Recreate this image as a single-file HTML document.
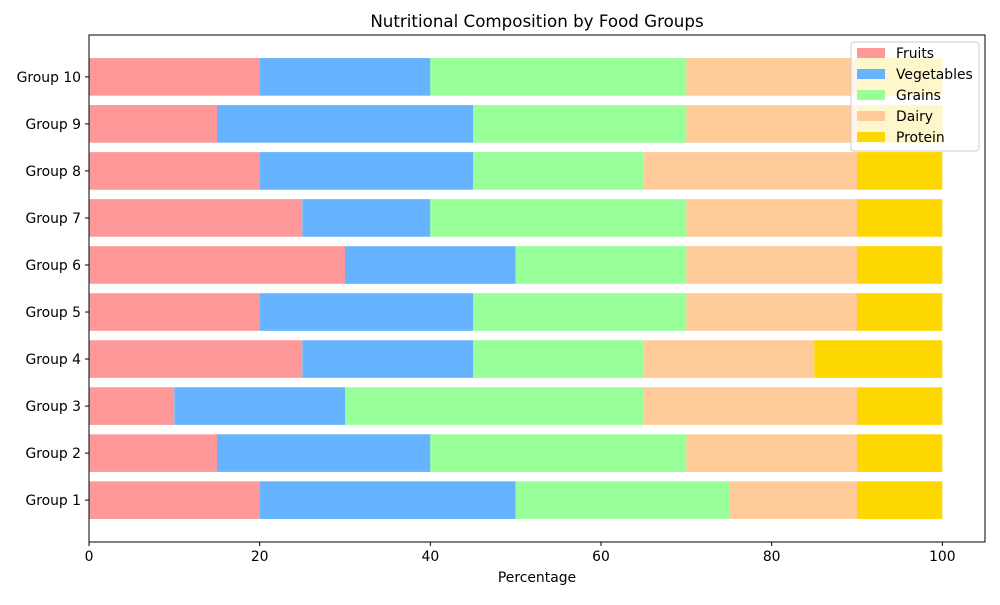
<!DOCTYPE html>
<html><head><meta charset="utf-8"><style>body{margin:0;background:#fff}svg{font-family:"DejaVu Sans","Liberation Sans",sans-serif}</style></head>
<body>
<svg id="c" width="1000" height="600" xmlns="http://www.w3.org/2000/svg"></svg>
<script>
const categories=["Group 1","Group 2","Group 3","Group 4","Group 5","Group 6","Group 7","Group 8","Group 9","Group 10"];
const seriesNames=["Fruits","Vegetables","Grains","Dairy","Protein"];
const fruits=[20,15,10,25,20,30,25,20,15,20];
const vegetables=[30,25,20,20,25,20,15,25,30,20];
const grains=[25,30,35,20,25,20,30,20,25,30];
const dairy=[15,20,25,20,20,20,20,25,20,20];
const protein=[10,10,10,15,10,10,10,10,10,10];
const xTicks=[0,20,40,60,80,100];
const colors=["#ff9999","#66b3ff","#99ff99","#ffcc99","#ffd700"];
const series=[fruits,vegetables,grains,dairy,protein];
const svg=document.getElementById('c');const NS="http://www.w3.org/2000/svg";
const L=89,R=985,T=35,B=542;
const x=v=>L+(v/105)*(R-L);
const y=i=>B-((i+0.89)/(9.89+0.89))*(B-T);
const bh=0.8*(B-T)/10.78;
function el(t,a,txt){const e=document.createElementNS(NS,t);for(const k in a)e.setAttribute(k,a[k]);if(txt!==undefined)e.textContent=txt;svg.appendChild(e);return e;}
let t=el('text',{x:537,y:27,'font-size':16.7,'text-anchor':'middle'},'Nutritional Composition by Food Groups');


categories.forEach((c,i)=>{let acc=0;series.forEach((s,j)=>{const r=el('rect',{x:x(acc),y:y(i)-bh/2,width:x(acc+s[i])-x(acc),height:bh,fill:colors[j]});


acc+=s[i];});
el('line',{x1:L-4,x2:L,y1:y(i),y2:y(i),stroke:'#000'});
const lb=el('text',{x:L-8,y:y(i)+5,'font-size':13.9,'text-anchor':'end'},c);


});
xTicks.forEach(v=>{el('line',{x1:x(v),x2:x(v),y1:B,y2:B+4,stroke:'#000'});
const lb=el('text',{x:x(v),y:B+19,'font-size':13.9,'text-anchor':'middle'},v);

});
const ax=el('rect',{x:L,y:T,width:R-L,height:B-T,fill:'none',stroke:'#000','stroke-width':1});


const xt=el('text',{x:537,y:582,'font-size':13.9,'text-anchor':'middle'},'Percentage');


const lg=el('rect',{x:851,y:42,width:128,height:109,fill:'#fff','fill-opacity':0.8,stroke:'#ccc',rx:3});


seriesNames.forEach((n,j)=>{const yy=53+j*21;el('rect',{x:857,y:yy-5,width:28,height:10,fill:colors[j]});
const lt=el('text',{x:896,y:yy+5,'font-size':13.9},n);

});
</script>
</body></html>
